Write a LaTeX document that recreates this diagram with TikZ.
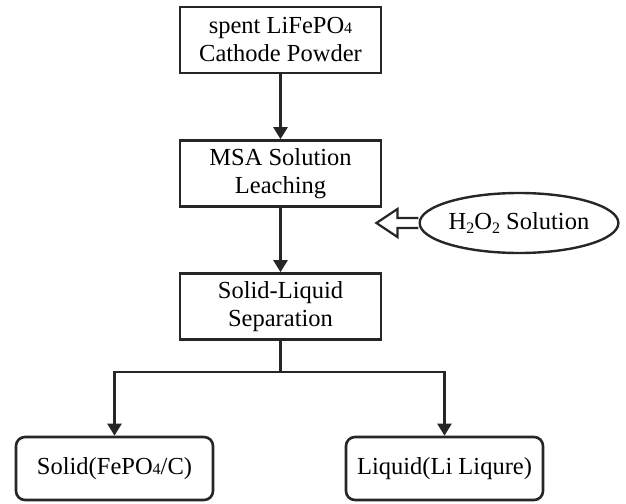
\documentclass[tikz,border=0pt]{standalone}
\usepackage{fontspec}
\setmainfont{Liberation Serif}
\usetikzlibrary{arrows.meta,shapes.geometric}
\newcommand{\smallsub}[1]{{\fontsize{16}{16}\selectfont #1}}
\begin{document}
\begin{tikzpicture}[x=1pt,y=-1pt,
  every node/.style={font=\fontsize{24.5}{28}\selectfont, text=black, align=center},
  procbox/.style={draw=black!85, line width=2.6pt, minimum width=201pt, minimum height=66pt, inner sep=0pt},
  resbox/.style={draw=black!85, line width=2.6pt, rounded corners=9pt, minimum width=197pt, minimum height=63pt, inner sep=0pt},
  flow/.style={draw=black!85, line width=2.3pt, -{Triangle[length=12pt,width=14pt]}},
  link/.style={draw=black!85, line width=2.3pt}
]
\useasboundingbox (0,0) rectangle (626,503);
\node[procbox] (spent) at (280.5,40) {spent LiFePO\smallsub{4}\\Cathode Powder};
\node[procbox] (msa) at (280.5,173.5) {MSA Solution\\Leaching};
\node[procbox] (sep) at (280.5,306.5) {Solid-Liquid\\Separation};
\node[resbox] (solid) at (114.5,468.5) {Solid(FePO\smallsub{4}/C)};
\node[resbox] (liquid) at (444.5,468.5) {Liquid(Li Liqure)};
\node[draw=black!85, line width=2.4pt, ellipse, minimum width=198pt, minimum height=60pt, inner sep=0pt] (h2o2) at (519,223) {H{\raisebox{-0.3ex}{\fontsize{16}{16}\selectfont 2}}O{\raisebox{-0.3ex}{\fontsize{16}{16}\selectfont 2}} Solution};
\coordinate (junc) at (280.5,372);
\coordinate (jl) at (114.5,372);
\coordinate (jr) at (444.5,372);
\draw[flow] (spent) -- (msa);
\draw[flow] (msa) -- (sep);
\draw[link] (sep) -- (junc);
\draw[link, line cap=rect] (jl) -- (jr);
\draw[flow] (jl) -- (solid);
\draw[flow] (jr) -- (liquid);
\draw[draw=black!85, line width=2.2pt, fill=white, line join=miter]
  (h2o2.west) ++(0,-5) -- ++(-21,0) -- ++(0,-9) -- ++(-21,14) -- ++(21,14) -- ++(0,-9) -- ++(21,0);
\end{tikzpicture}
\end{document}
